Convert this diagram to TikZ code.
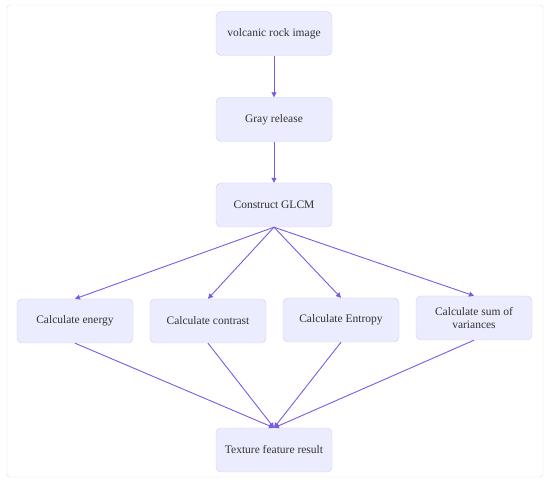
\documentclass[tikz,border=0pt]{standalone}
\usepackage{fontspec}
\setmainfont{Liberation Serif}
\newfontfamily\stagefont{Liberation Serif}
\usetikzlibrary{arrows.meta}

\definecolor{boxfill}{RGB}{236,236,255}
\definecolor{boxline}{RGB}{206,204,248}
\definecolor{flowline}{RGB}{120,92,228}
\definecolor{txtgray}{RGB}{51,51,51}
\definecolor{framegray}{RGB}{222,222,222}

\begin{document}
\begin{tikzpicture}[x=1pt, y=-1pt,
    stage/.style={draw=boxline, fill=boxfill, rounded corners=5pt,
        minimum width=116pt, minimum height=44pt, align=center,
        text=txtgray, font=\stagefont\fontsize{11.5}{13.5}\selectfont},
    flow/.style={draw=flowline, line width=0.9pt,
        -{Triangle[length=5pt, width=5pt]}}]
    % Canvas and outer frame
    \useasboundingbox (0,0) rectangle (550,484);
    \draw[framegray, rounded corners=3pt] (7,5) rectangle (543,477);

    % Main chain
    \node[stage] (rock) at (274,33.5) {volcanic rock image};
    \node[stage] (gray) at (274,119.5) {Gray release};
    \node[stage] (glcm) at (274,205) {Construct GLCM};

    % Feature calculations
    \node[stage] (energy) at (75,321) {Calculate energy};
    \node[stage] (contrast) at (208,321) {Calculate contrast};
    \node[stage] (entropy) at (341,320) {Calculate Entropy};
    \node[stage] (sumvar) at (474,318) {Calculate sum of\\variances};

    % Result
    \node[stage] (result) at (274,450) {Texture feature result};

    % Connectors
    \draw[flow] (rock) -- (gray);
    \draw[flow] (gray) -- (glcm);
    \foreach \f in {energy, contrast, entropy, sumvar} {
        \draw[flow] (glcm.south) -- (\f.north);
        \draw[flow] (\f.south) -- (result.north);
    }
\end{tikzpicture}
\end{document}
